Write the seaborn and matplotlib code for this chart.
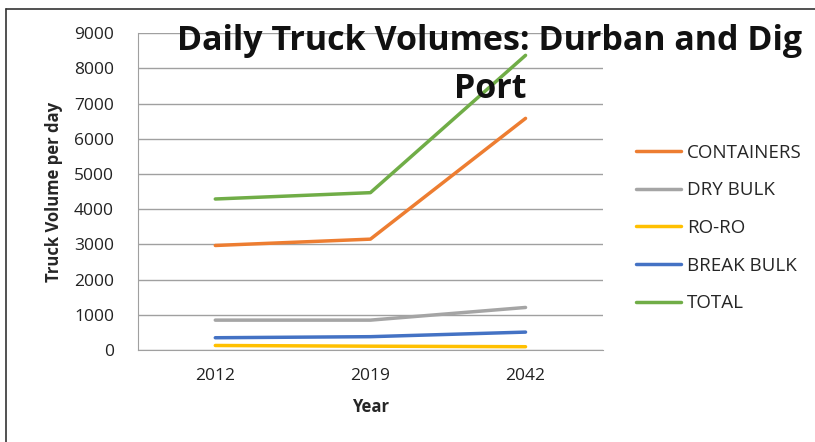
import seaborn as sns
from matplotlib import pyplot as plt
from matplotlib.lines import Line2D
import pandas as pd

# Values
years = ["2012", "2019", "2042"]
containers = [2970, 3150, 6580]
dry_bulk = [850, 850, 1210]
ro_ro = [130, 110, 95]
break_bulk = [350, 380, 510]
total = [4290, 4470, 8370]

series = {
    "CONTAINERS": containers,
    "DRY BULK": dry_bulk,
    "RO-RO": ro_ro,
    "BREAK BULK": break_bulk,
    "TOTAL": total,
}
colors = ["#ED7D31", "#A5A5A5", "#FFC000", "#4472C4", "#70AD47"]

rows = []
for name, vals in series.items():
    for y, v in zip(years, vals):
        rows.append({"Year": y, "Volume": v, "Series": name})
df = pd.DataFrame(rows)

sns.set_style("white")
plt.rcParams["font.family"] = ["Open Sans", "DejaVu Sans"]

fig = plt.figure(figsize=(8.15, 4.42), dpi=100)
ax = fig.add_axes([0.169, 0.208, 0.571, 0.717])

sns.lineplot(x="Year", y="Volume", hue="Series", data=df, palette=colors,
             linewidth=2.5, ax=ax, sort=False)

ax.set_ylim(0, 9000)
ax.set_yticks(range(0, 9001, 1000))
ax.set_xlim(-0.5, 2.5)
ax.set_xticks([0, 1, 2])
ax.set_xticks([-0.5, 0.5, 1.5, 2.5], minor=True)
ax.tick_params(axis="x", which="major", length=0, pad=13, labelsize=12.5, colors="#222222")
ax.tick_params(axis="x", which="minor", length=7, color="#A0A0A0", width=1)
ax.tick_params(axis="y", length=7, color="#A0A0A0", width=1, labelsize=12.5, colors="#222222", pad=10)
ax.grid(axis="y", color="#A0A0A0", linewidth=1)
for s in ["top", "right"]:
    ax.spines[s].set_visible(False)
ax.spines["left"].set_color("#A0A0A0")
ax.spines["bottom"].set_color("#A0A0A0")

ax.set_xlabel("Year", fontsize=12, fontweight="bold", labelpad=10)
ax.set_ylabel("Truck Volume per day", fontsize=12, fontweight="bold", labelpad=8)

fig.text(0.601, 0.945, "Daily Truck Volumes: Durban and Dig\nPort", ha="center", va="top",
         fontsize=24.5, fontweight="bold", linespacing=1.52, color="#111111")

ax.legend(loc="center left", bbox_to_anchor=(1.035, 0.385), frameon=False, fontsize=13.5,
          handlelength=2.4, handletextpad=0.3, labelspacing=1.05)

# outer chart frame (top and left edges)
fig.add_artist(Line2D([0.007, 1.0], [0.980, 0.980], color="#333333", linewidth=1.2))
fig.add_artist(Line2D([0.007, 0.007], [0.0, 0.980], color="#333333", linewidth=1.2))

plt.savefig("out.png", dpi=100)
